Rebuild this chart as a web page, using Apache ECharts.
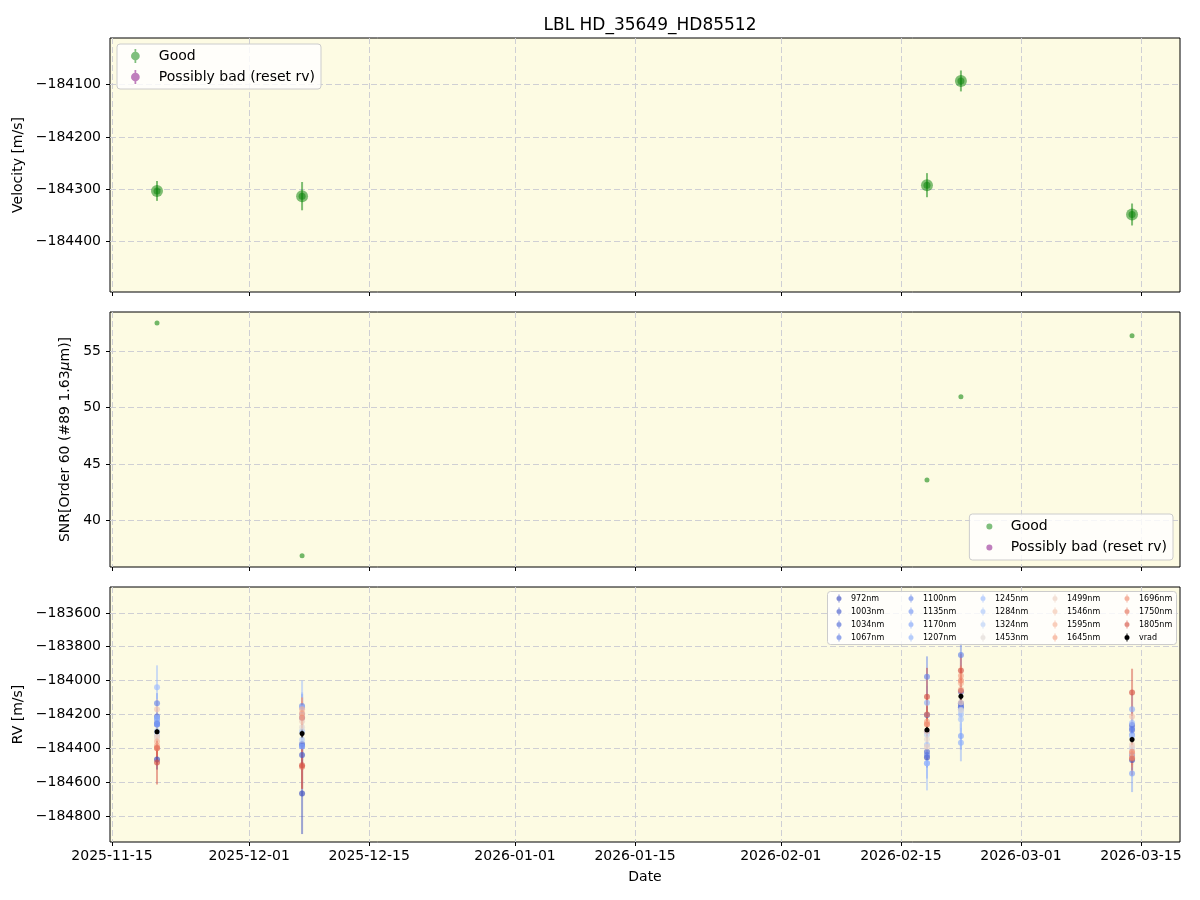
<!DOCTYPE html>
<html>
<head>
<meta charset="utf-8">
<title>LBL HD_35649_HD85512</title>
<script src="https://cdn.jsdelivr.net/npm/echarts@6.0.0/dist/echarts.min.js"></script>
<style>
html, body { margin: 0; padding: 0; background: #fff; }
#chart { width: 1200px; height: 900px; }
</style>
</head>
<body>
<div id="chart"></div>
<script>
// observation epochs (local time)
const obsDates = ['2025-11-20T06:00:00', '2025-12-07T04:00:00', '2026-02-18T01:00:00', '2026-02-22T00:00:00', '2026-03-13T23:00:00'];
// top panel: velocity + error
const velocity = [-184303, -184313, -184292, -184093, -184348];
const velocityErr = [19, 27, 23, 20, 21];
// middle panel: SNR
const snr = [57.48, 36.86, 43.58, 50.94, 56.36];
// bottom panel: per band RV
const bandNm = [972, 1003, 1034, 1067, 1100, 1135, 1170, 1207, 1245, 1284, 1324, 1453, 1499, 1546, 1595, 1645, 1696, 1750, 1805];
const rvBand = [
  [-184466, -184667, -184454, -184134, -184470],
  [-184259, -184440, -184204, -184158, -184263],
  [-184213, -184375, -184421, -184066, -184292],
  [-184250, -184387, -184440, -184150, -184440],
  [-184134, -184150, -183977, -183849, -184280],
  [-184230, -184219, -184300, -184170, -184320],
  [-184260, -184390, -184489, -184328, -184549],
  [-184220, -184160, -184131, -184367, -184170],
  [-184040, -184200, -184489, -184200, -184250],
  [-184300, -184300, -184380, -184229, -184330],
  [-184320, -184350, -184320, -184180, -184400],
  [-184340, -184276, -184347, -184174, -184395],
  [-184330, -184240, -184391, -184130, -184380],
  [-184170, -184210, -184300, -184052, -184213],
  [-184360, -184170, -184257, -184016, -184430],
  [-184385, -184193, -184243, -183971, -184454],
  [-184397, -184220, -184260, -184000, -184420],
  [-184400, -184509, -184200, -184060, -184460],
  [-184484, -184500, -184095, -183941, -184070]
];
const rvBandErr = [
  [60, 240, 60, 50, 60],
  [50, 60, 50, 50, 50],
  [50, 60, 60, 50, 50],
  [50, 60, 60, 50, 60],
  [60, 70, 120, 70, 60],
  [60, 70, 70, 60, 60],
  [70, 80, 90, 80, 110],
  [80, 90, 100, 110, 90],
  [130, 200, 160, 100, 100],
  [90, 100, 110, 100, 90],
  [90, 100, 110, 100, 90],
  [70, 80, 80, 70, 70],
  [60, 70, 70, 60, 60],
  [60, 70, 70, 60, 60],
  [60, 70, 70, 60, 60],
  [60, 70, 70, 60, 60],
  [70, 120, 80, 70, 80],
  [90, 130, 100, 90, 100],
  [130, 140, 170, 100, 140]
];
// axis ticks
const tickDates = ['2025-11-15', '2025-12-01', '2025-12-15', '2026-01-01', '2026-01-15', '2026-02-01', '2026-02-15', '2026-03-01', '2026-03-15'];
const velTicks = [-184400, -184300, -184200, -184100];
const snrTicks = [40, 45, 50, 55];
const rvTicks = [-184800, -184600, -184400, -184200, -184000, -183800, -183600];

const FONT = 'DejaVu Sans';
const ERR_ICON = 'path://M4,0h2v16h-2z M0,8a5,5 0 1,1 10,0a5,5 0 1,1 -10,0z';
const coolwarm = ['#3b4cc0', '#5977e3', '#7b9ff9', '#9ebeff', '#c0d4f5', '#dddcdc', '#f2cbb7', '#f7ac8e', '#ee8468', '#d65244', '#b40426'];

function hexRgb(h) { return [1, 3, 5].map(i => parseInt(h.substr(i, 2), 16)); }
function cmap(t) {
  const p = t * 10, i = Math.min(9, Math.floor(p)), f = p - i;
  const a = hexRgb(coolwarm[i]), b = hexRgb(coolwarm[i + 1]);
  return 'rgb(' + a.map((v, k) => Math.round(v + (b[k] - v) * f)).join(',') + ')';
}
const ts = s => new Date(s.length === 10 ? s + 'T00:00:00' : s).getTime();
const minus = v => (v < 0 ? '\u2212' : '') + Math.abs(v);
const pad2 = n => (n < 10 ? '0' : '') + n;
const fmtDate = v => { const d = new Date(v); return d.getFullYear() + '-' + pad2(d.getMonth() + 1) + '-' + pad2(d.getDate()); };

function errBars(name, axis, ys, errs, color, width, opacity) {
  return {
    type: 'custom', name: name, xAxisIndex: axis, yAxisIndex: axis, z: 2, silent: true,
    data: obsDates.map((d, i) => [ts(d), ys[i] - errs[i], ys[i] + errs[i]]),
    encode: { x: 0, y: [1, 2] },
    renderItem: (params, api) => {
      const a = api.coord([api.value(0), api.value(1)]);
      const b = api.coord([api.value(0), api.value(2)]);
      return { type: 'line', shape: { x1: a[0], y1: a[1], x2: b[0], y2: b[1] },
        style: { stroke: color, lineWidth: width, opacity: opacity } };
    }
  };
}
function dots(name, axis, ys, color, size, opacity, z) {
  return {
    type: 'scatter', name: name, xAxisIndex: axis, yAxisIndex: axis, symbol: 'circle',
    symbolSize: size, z: z, silent: true, itemStyle: { color: color, opacity: opacity },
    data: obsDates.map((d, i) => [ts(d), ys[i]])
  };
}

const gridLine = { show: true, lineStyle: { color: '#cfcfd4', type: [6, 3], width: 1 } };
const xMin = ts('2025-11-14T18:24:00'), xMax = ts('2026-03-19T13:12:00');
const tickVals = tickDates.map(ts);

function xAxis(idx, labels) {
  return {
    type: 'value', gridIndex: idx, min: xMin, max: xMax, scale: true,
    axisLine: { show: false },
    axisTick: { show: true, length: 4, customValues: tickVals, lineStyle: { color: '#000' } },
    axisLabel: { show: labels, customValues: tickVals, fontSize: 14, color: '#000', margin: 7,
      formatter: v => fmtDate(v) },
    splitLine: gridLine,
    name: labels ? 'Date' : '', nameLocation: 'middle', nameGap: 28,
    nameTextStyle: { fontSize: 14, color: '#000' }
  };
}
function yAxis(idx, min, max, ticks, name, gap, fmt) {
  return {
    type: 'value', gridIndex: idx, min: min, max: max, scale: true,
    axisLine: { show: false },
    axisTick: { show: true, length: 4, customValues: ticks, lineStyle: { color: '#000' } },
    axisLabel: { customValues: ticks, fontSize: 14, color: '#000', margin: 9, formatter: fmt },
    splitLine: gridLine,
    name: name, nameLocation: 'middle', nameGap: gap,
    nameTextStyle: { fontSize: 14, color: '#000', rich: { i: { fontStyle: 'italic', fontSize: 14 } } }
  };
}

const series = [];
// top
series.push(dots('Good', 0, velocity, '#008000', 12, 0.5, 3));
series.push(dots('Good', 0, velocity, '#008000', 7, 0.5, 4));
series.push(errBars('Good', 0, velocity, velocityErr, '#008000', 2, 0.5));
series.push({ type: 'scatter', name: 'Possibly bad (reset rv)', xAxisIndex: 0, yAxisIndex: 0, data: [],
  itemStyle: { color: '#800080', opacity: 0.5 } });
// middle
series.push(dots('Good', 1, snr, '#008000', 5, 0.55, 3));
series.push({ type: 'scatter', name: 'Possibly bad (reset rv)', xAxisIndex: 1, yAxisIndex: 1, data: [],
  itemStyle: { color: '#800080', opacity: 0.5 } });
// bottom
const bandNames = bandNm.map(w => w + 'nm');
bandNm.forEach((w, k) => {
  const c = cmap(0.9 * (w - bandNm[0]) / (bandNm[bandNm.length - 1] - bandNm[0]));
  series.push(dots(bandNames[k], 2, rvBand[k], c, 6, 0.65, 3));
  series.push(errBars(bandNames[k], 2, rvBand[k], rvBandErr[k], c, 2, 0.5));
});
series.push(dots('vrad', 2, velocity, '#000', 5, 1, 5));
series.push(errBars('vrad', 2, velocity, velocityErr, '#000', 1.5, 1));

const legendBox = { backgroundColor: 'rgba(255,255,255,0.8)', borderColor: '#cccccc', borderWidth: 1, borderRadius: 3 };
const spaced = n => '\u2002 ' + n;

// bottom legend: 5 columns of 4
const legendNames = bandNames.concat(['vrad']);
const bandLegends = [0, 1, 2, 3, 4].map(c => ({
  left: 836.5 + c * 72, top: 594.5, orient: 'vertical', padding: 0, itemWidth: 14, itemHeight: 8, itemGap: 5,
  selectedMode: false, icon: ERR_ICON, z: 12,
  textStyle: { fontSize: 8, color: '#000', lineHeight: 8 },
  data: legendNames.slice(c * 4, c * 4 + 4)
}));

const chart = echarts.init(document.getElementById('chart'));
chart.setOption({
  animation: false,
  textStyle: { fontFamily: FONT },
  title: { text: 'LBL HD_35649_HD85512', left: 645, top: 12, textAlign: 'center',
    textStyle: { fontSize: 17, fontWeight: 'normal', color: '#000', fontFamily: FONT } },
  grid: [
    { left: 110, right: 20, top: 38, height: 254, show: true, backgroundColor: '#fdfbe3', borderColor: '#000', borderWidth: 1 },
    { left: 110, right: 20, top: 312, height: 255, show: true, backgroundColor: '#fdfbe3', borderColor: '#000', borderWidth: 1 },
    { left: 110, right: 20, top: 587, height: 255, show: true, backgroundColor: '#fdfbe3', borderColor: '#000', borderWidth: 1 }
  ],
  xAxis: [xAxis(0, false), xAxis(1, false), xAxis(2, true)],
  yAxis: [
    yAxis(0, -184496, -184011, velTicks, 'Velocity [m/s]', 80, minus),
    yAxis(1, 35.86, 58.46, snrTicks, 'SNR[Order 60 (#89 1.63{i|μ}m)]', 36, v => v),
    yAxis(2, -184954, -183447, rvTicks, 'RV [m/s]', 80, minus)
  ],
  graphic: [{
    type: 'rect', z: 11, silent: true,
    shape: { x: 827.5, y: 591.5, width: 349, height: 53, r: 3 },
    style: { fill: 'rgba(255,255,255,0.8)', stroke: '#cccccc', lineWidth: 1 }
  }],
  legend: [
    Object.assign({
      left: 117, top: 44, orient: 'vertical', padding: [5, 6, 5, 14], itemWidth: 14, itemHeight: 14, itemGap: 7,
      selectedMode: false, icon: ERR_ICON, formatter: spaced,
      textStyle: { fontSize: 14, color: '#000' },
      data: ['Good', 'Possibly bad (reset rv)']
    }, legendBox),
    Object.assign({
      right: 27, bottom: 340, orient: 'vertical', padding: [5.5, 6, 5.5, 17], itemWidth: 10, itemHeight: 6, itemGap: 7,
      selectedMode: false, icon: 'circle', formatter: spaced,
      textStyle: { fontSize: 14, color: '#000' },
      data: ['Good', 'Possibly bad (reset rv)']
    }, legendBox)
  ].concat(bandLegends),
  series: series
});
</script>
</body>
</html>
